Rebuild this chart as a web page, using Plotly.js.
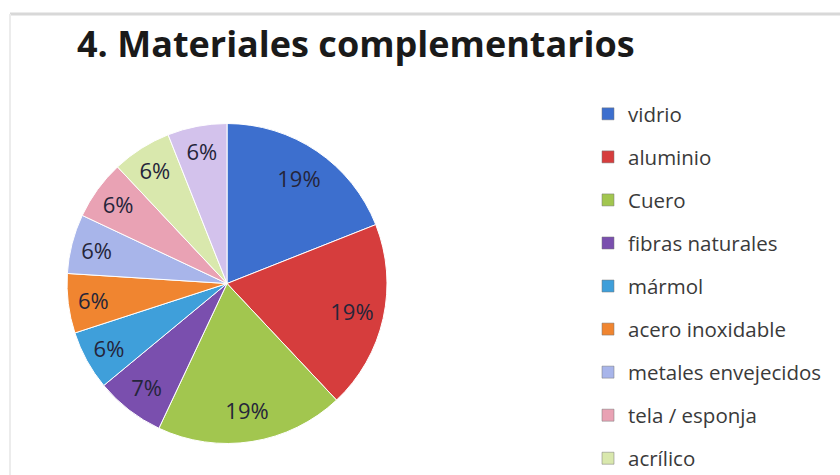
<!DOCTYPE html>
<html>
<head>
<meta charset="utf-8">
<script src="https://cdn.plot.ly/plotly-3.0.1.min.js"></script>
<style>html,body{margin:0;padding:0;background:#fff}#chart{width:840px;height:475px}</style>
</head>
<body>
<div id="chart"></div>
<script>
const categories = ["vidrio","aluminio","Cuero","fibras naturales","mármol","acero inoxidable","metales envejecidos","tela / esponja","acrílico","otro"];
const values = [19,19,19,7,6,6,6,6,6,6];
const colors = ["#3d6fce","#d63d3d","#a2c64f","#7a4fae","#3f9fda","#f08530","#a8b5ea","#e9a2b4","#d9e8ad","#d3c2ec"];
const legendCount = 9; // only the first nine entries are visible in the picture

const pieDomain = {x: [0.0798, 0.4607], y: [0.0663, 0.74]};
const traces = [{
  // the coloured slices
  type: "pie",
  labels: categories,
  values: values,
  sort: false,
  direction: "clockwise",
  rotation: 0,
  marker: {colors: colors, line: {color: "#ffffff", width: 1}},
  textinfo: "none",
  domain: pieDomain,
  showlegend: false,
  hoverinfo: "label+percent"
}, {
  // percentage labels layer, placed towards the rim like the original
  type: "pie",
  labels: categories,
  values: values,
  sort: false,
  direction: "clockwise",
  rotation: 0,
  hole: 0.6,
  marker: {colors: categories.map(() => "rgba(0,0,0,0)"), line: {width: 0}},
  textinfo: "percent",
  textposition: "inside",
  insidetextorientation: "horizontal",
  textfont: {family: "Open Sans, sans-serif", size: 22, color: "#25253a"},
  domain: pieDomain,
  showlegend: false,
  hoverinfo: "skip"
}];
for (let i = 0; i < legendCount; i++) {
  traces.push({
    type: "scatter", mode: "markers", x: [null], y: [null],
    name: categories[i], legendgroup: "g" + i,
    marker: {symbol: "square", size: 12, color: colors[i], line: {color: "#777", width: 0.5}},
    showlegend: true, hoverinfo: "skip"
  });
}

const layout = {
  width: 840, height: 475,
  margin: {l: 0, r: 0, t: 0, b: 0, autoexpand: false},
  paper_bgcolor: "#ffffff", plot_bgcolor: "#ffffff",
  title: {text: "<b>4. Materiales complementarios</b>", x: 77/840, xanchor: "left", xref: "paper",
          y: 1 - 44/475, yref: "container", yanchor: "middle",
          font: {family: "Open Sans, sans-serif", size: 36, color: "#1a1a1a"}},
  xaxis: {visible: false}, yaxis: {visible: false},
  legend: {x: 588/840, xanchor: "left", y: 1 - 94/475, yanchor: "top",
           traceorder: "grouped", tracegroupgap: 13.4,
           font: {family: "Open Sans, sans-serif", size: 20.5, color: "#3a3a3a"},
           bgcolor: "rgba(0,0,0,0)"},
  shapes: [
    {type: "line", xref: "paper", yref: "paper", x0: 10/840, x1: 1, y0: 1 - 14/475, y1: 1 - 14/475, line: {color: "#d8d8d8", width: 3}},
    {type: "line", xref: "paper", yref: "paper", x0: 10/840, x1: 10/840, y0: 0, y1: 1 - 14/475, line: {color: "#ececec", width: 2}}
  ]
};
Plotly.newPlot("chart", traces, layout, {displayModeBar: false, staticPlot: true});
</script>
</body>
</html>
